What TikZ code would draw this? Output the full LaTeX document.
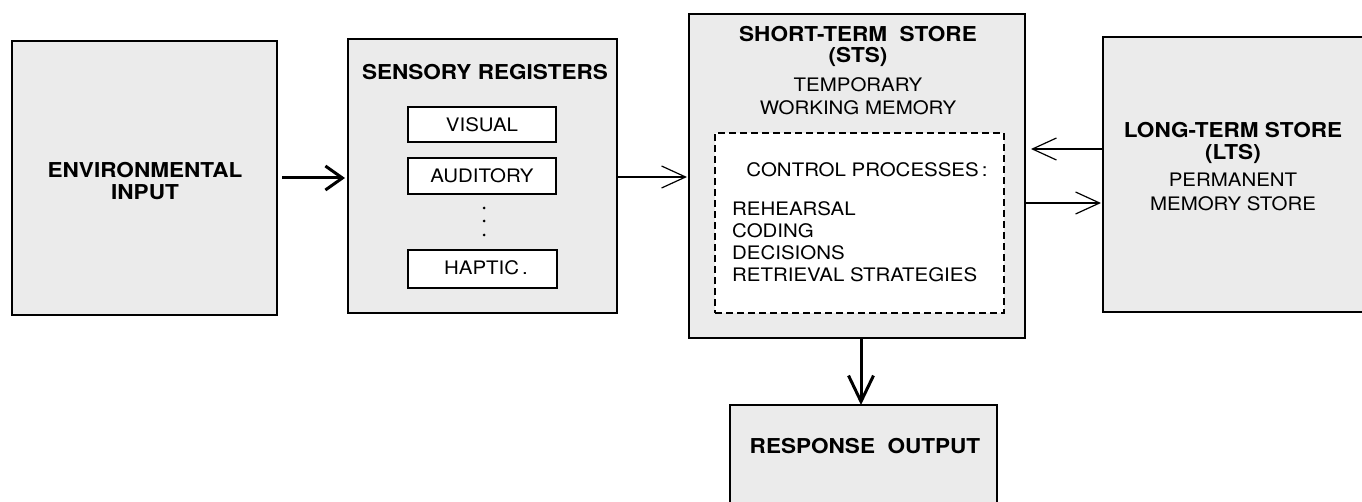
\documentclass[tikz,border=0pt]{standalone}
\usepackage{fontspec}
\setmainfont{TeX Gyre Heros}[FakeStretch=1.1]
\usetikzlibrary{arrows.meta}
\definecolor{boxgray}{HTML}{EBEBEB}
\tikzset{
  bigbox/.style={draw=black, line width=1.8pt, fill=boxgray, inner sep=0pt, outer sep=0pt, anchor=north west},
  smallbox/.style={draw=black, line width=1.4pt, fill=white, inner sep=0pt, outer sep=0pt, anchor=north west},
  dashbox/.style={draw=black, line width=2pt, fill=white, dash pattern=on 7pt off 4pt, inner sep=0pt, outer sep=0pt, anchor=north west},
  lbl/.style={anchor=base, inner sep=0pt, font=\fontsize{18.6}{20}\selectfont},
  lblw/.style={anchor=base west, inner sep=0pt, font=\fontsize{18.6}{20}\selectfont},
  ttl/.style={anchor=base, inner sep=0pt, font=\fontsize{20.5}{21}\selectfont\bfseries},
  thinarrow/.style={line width=1.2pt, -{Straight Barb[length=24pt,width=22pt]}},
  thickarrow/.style={line width=3pt, -{Straight Barb[length=17pt,width=24pt]}},
  downarrow/.style={line width=3pt, -{Straight Barb[length=26pt,width=25pt]}},
  dotmark/.style={circle, fill=black, inner sep=0pt, minimum size=3pt}
}
\begin{document}
\begin{tikzpicture}[x=1pt,y=-1pt]
\clip (0,0) rectangle (1362,502);
\useasboundingbox (0,0) rectangle (1362,502);
\fill[white] (0,0) rectangle (1362,502);

% boxes
\node[bigbox, minimum width=265pt, minimum height=274pt] (env) at (12,41) {};
\node[bigbox, minimum width=269pt, minimum height=274pt] (sens) at (348,39) {};
\node[smallbox, minimum width=148pt, minimum height=35pt] (vis) at (408,107) {};
\node[smallbox, minimum width=148pt, minimum height=36pt] (aud) at (408,158) {};
\node[smallbox, minimum width=149pt, minimum height=38pt] (hap) at (408,250) {};
\node[bigbox, minimum width=336pt, minimum height=324pt] (sts) at (689,14) {};
\node[dashbox, minimum width=289pt, minimum height=180pt] (ctrl) at (715,133) {};
\node[bigbox, minimum width=290pt, minimum height=275pt] (lts) at (1103,37) {};
\node[bigbox, minimum width=267pt, minimum height=130pt] (resp) at (730,405) {};

% texts
\node[ttl] (t1a) at (145,178) {ENVIRONMENTAL};
\node[ttl] (t1b) at (145,200) {INPUT};
\node[ttl] (t2) at (485,80) {SENSORY REGISTERS};
\node[lbl] (t2a) at (482,132) {VISUAL};
\node[lbl] (t2b) at (482,183) {AUDITORY};
\node[lbl] (t2c) at (486,275) {HAPTIC\,.};
\node[dotmark] (d1) at (484,208) {};
\node[dotmark] (d2) at (484,221) {};
\node[dotmark] (d3) at (484,235) {};
\node[ttl] (t3a) at (858,42) {SHORT-TERM\ \ STORE};
\node[ttl] (t3b) at (858,63) {(STS)};
\node[lbl] (t3c) at (858,92) {TEMPORARY};
\node[lbl] (t3d) at (858,115) {WORKING MEMORY};
\node[lbl] (t4) at (867,177) {CONTROL PROCESSES\,:};
\node[lblw] (t4a) at (732,216) {REHEARSAL};
\node[lblw] (t4b) at (732,238) {CODING};
\node[lblw] (t4c) at (732,260) {DECISIONS};
\node[lblw] (t4d) at (732,282) {RETRIEVAL STRATEGIES};
\node[ttl] (t5a) at (1233,138) {LONG-TERM STORE};
\node[ttl] (t5b) at (1233,160) {(LTS)};
\node[lbl] (t5c) at (1233,187) {PERMANENT};
\node[lbl] (t5d) at (1233,211) {MEMORY STORE};
\node[ttl] (t6) at (865,453) {RESPONSE\ \ OUTPUT};

% connectors
\draw[thickarrow] ([xshift=5pt]env.east) -- ([xshift=-3pt]env.east -| sens.west);
\draw[thinarrow] ([yshift=-1pt]sens.east) -- ([xshift=-2pt,yshift=-1pt]sens.east -| sts.west);
\draw[thinarrow] ([yshift=25.5pt]lts.west) -- ([xshift=6pt,yshift=25.5pt]lts.west -| sts.east);
\draw[thinarrow] ([yshift=-28.5pt]lts.west -| sts.east) -- ([xshift=-2pt,yshift=-28.5pt]lts.west);
\draw[downarrow] ([xshift=4pt]sts.south) -- ([xshift=4pt]sts.south |- resp.north);
\end{tikzpicture}
\end{document}
